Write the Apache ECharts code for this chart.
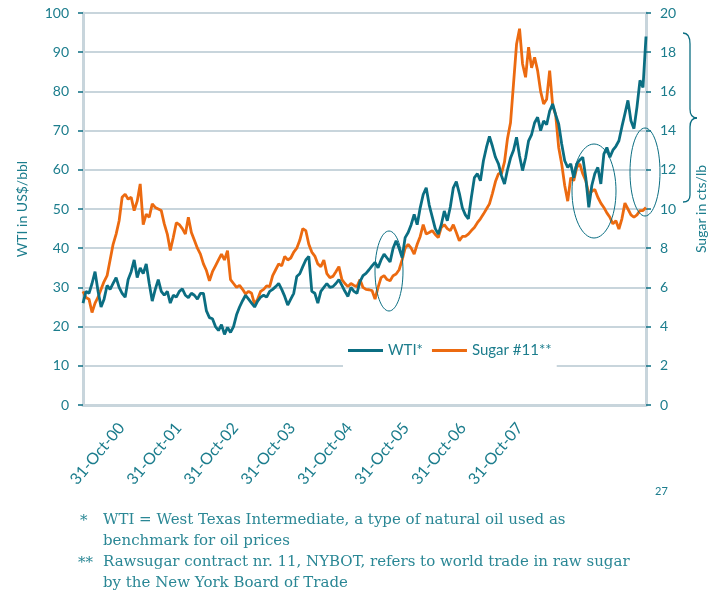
<!DOCTYPE html>
<html>
<head>
<meta charset="utf-8">
<script src="https://cdn.jsdelivr.net/npm/echarts@6/dist/echarts.min.js"></script>
<style>
html,body{margin:0;padding:0;background:#fff}
#chart{width:716px;height:592px}
</style>
</head>
<body>
<div id="chart"></div>
<script>
// WTI, US$/bbl at even steps along the x axis
var wti=[26,29,28.5,31,34,29,25,27,30.5,29.5,
 31,32.5,30,28.5,27.5,32,34,37,32.5,35,
 33.5,36,31,26.5,29.5,32,29,28,29,26,
 28,27.5,29,29.6,28,27.4,28.5,28,27,28.5,
 28.5,24,22.3,22,20,19,20.5,18,19.8,18.5,
 20,23,25,26.6,28,27,26,25,26.5,27.5,
 28,27.5,29,29.5,30.2,31,29.5,27.7,25.5,27,
 28.5,32.8,33.5,35.3,37,37.9,29,28.5,26,29,
 30,31,30,30.2,31,32,30.5,29,27.7,30,
 29,28.5,31.5,33,33.6,34.5,35.5,36.4,35,37,
 38.5,37.5,36.5,40,41.9,40,37.6,42.7,44,46,
 48.6,46,50.3,53.7,55.4,51,48,45,43.6,46,
 49.5,47,50.5,55.4,57,54,50.3,48.5,47.5,53,
 58,59,57.2,62.3,65.7,68.5,66,63.2,61.5,58.5,
 56.4,60,63,65,68.3,63.5,59.8,63,67.4,69,
 72,73.4,70,72.5,71.5,75,76.8,74,71.7,66.6,
 62.3,60.6,61.5,58,61.5,62.5,63.2,58,50.4,56,
 59,60.6,56.4,64,65.7,63.2,65,66,67.4,71,
 74.3,77.7,72.5,70.5,76,82.8,81,94];
// Sugar #11, cts/lb, same steps
var sugar=[5.8,5.48,5.4,4.72,5.2,5.5,5.9,6.3,6.6,7.4,
 8.2,8.72,9.4,10.6,10.76,10.5,10.6,9.92,10.4,11.28,
 9.2,9.74,9.58,10.26,10.08,10.0,9.92,9.24,8.72,7.88,
 8.56,9.3,9.2,9.0,8.72,9.58,8.8,8.4,8.0,7.7,
 7.2,6.86,6.34,6.8,7.1,7.4,7.7,7.4,7.88,6.4,
 6.2,6.0,6.1,5.9,5.66,5.8,5.7,5.14,5.4,5.8,
 5.9,6.08,6.04,6.6,6.9,7.2,7.1,7.58,7.4,7.5,
 7.8,8.0,8.4,9.0,8.9,8.2,7.8,7.6,7.2,7.06,
 7.4,6.7,6.5,6.56,6.8,7.06,6.4,6.2,6.04,6.2,
 6.1,6.04,6.4,6.0,5.9,5.88,5.84,5.4,6.0,6.5,
 6.6,6.4,6.34,6.6,6.68,6.9,7.4,8.0,8.2,8.0,
 7.7,8.2,8.6,9.2,8.72,8.8,8.9,8.7,8.54,9.06,
 9.2,9.0,8.9,9.2,8.8,8.38,8.6,8.6,8.72,8.9,
 9.06,9.3,9.5,9.74,10.0,10.26,10.8,11.4,11.8,11.8,
 12.4,13.6,14.4,16.4,18.4,19.2,17.4,16.72,18.26,17.2,
 17.74,17.06,16.0,15.36,15.6,17.06,15.28,14.8,13.14,12.3,
 11.2,10.4,11.6,11.44,12.12,12.3,11.8,11.44,10.76,10.9,
 11.0,10.6,10.3,10.08,9.8,9.58,9.24,9.4,8.98,9.5,
 10.3,10.0,9.7,9.58,9.7,9.92,9.92,10.08];
// where the date labels sit along the x axis, and their text
var labelPos=[12.8,31.7,50.6,69.5,88.4,107.3,126.2,145.1];
var labelText=['31-Oct-00','31-Oct-01','31-Oct-02','31-Oct-03','31-Oct-04','31-Oct-05','31-Oct-06','31-Oct-07'];
var seriesNames=['WTI*','Sugar #11**'];

var TEAL='#0b6e82', ORANGE='#ec6a10', TXT='#1c7d8d', GRID='#c8d5dc', NOTE='#2a8795';
var FONT='Lato';
var NOTEFONT='15px "DejaVu Serif"';

function pts(arr){
    var out=[];
    for(var i=0;i<arr.length;i++) out.push([i,arr[i]]);
    return out;
}

var chart=echarts.init(document.getElementById('chart'));
chart.setOption({
    animation:false,
    grid:{left:83,right:70,top:13,bottom:187},
    legend:{
        left:343,top:337,
        padding:[6,5,9,5],
        backgroundColor:'#fff',
        itemWidth:35,itemHeight:3,itemGap:9,
        icon:'rect',
        textStyle:{color:TXT,fontSize:15,fontFamily:FONT},
        data:seriesNames
    },
    xAxis:{
        type:'value',min:0,max:wti.length-1,
        axisLine:{show:true,onZero:false,lineStyle:{color:GRID,width:3}},
        axisTick:{show:false},
        splitLine:{show:false},
        axisLabel:{
            customValues:labelPos,
            rotate:50,margin:20,
            color:TXT,fontSize:16,fontFamily:FONT,
            formatter:function(v){
                var k=labelPos.indexOf(v);
                return k<0?'':labelText[k];
            }
        }
    },
    yAxis:[{
        type:'value',min:0,max:100,interval:10,position:'left',
        name:'WTI in US$/bbl',nameLocation:'middle',nameGap:54,nameRotate:90,
        nameTextStyle:{color:TXT,fontSize:14,fontFamily:FONT},
        axisLine:{show:true,lineStyle:{color:GRID,width:3}},
        axisTick:{show:true,length:5,lineStyle:{color:TEAL,width:1.5}},
        splitLine:{lineStyle:{color:GRID,width:2}},
        axisLabel:{color:TXT,fontSize:14,fontFamily:FONT,margin:14}
    },{
        type:'value',min:0,max:20,interval:2,position:'right',
        name:'Sugar in cts/lb',nameLocation:'middle',nameGap:48,nameRotate:90,
        nameTextStyle:{color:TXT,fontSize:14,fontFamily:FONT},
        axisLine:{show:true,lineStyle:{color:GRID,width:3}},
        axisTick:{show:true,length:5,lineStyle:{color:TEAL,width:1.5}},
        splitLine:{show:false},
        axisLabel:{color:TXT,fontSize:14,fontFamily:FONT,margin:14}
    }],
    series:[
        {name:seriesNames[0],type:'line',yAxisIndex:0,data:pts(wti),showSymbol:false,
         color:TEAL,lineStyle:{color:TEAL,width:2.8},z:3},
        {name:seriesNames[1],type:'line',yAxisIndex:1,data:pts(sugar),showSymbol:false,
         color:ORANGE,lineStyle:{color:ORANGE,width:2.8},z:2}
    ],
    graphic:[
        // highlight rings
        {type:'ellipse',shape:{cx:389,cy:271,rx:14,ry:40},style:{fill:null,stroke:TEAL,lineWidth:1},z:10},
        {type:'ellipse',shape:{cx:594,cy:191,rx:22,ry:47},style:{fill:null,stroke:TEAL,lineWidth:1},z:10},
        {type:'ellipse',shape:{cx:645,cy:172,rx:15,ry:44},style:{fill:null,stroke:TEAL,lineWidth:1},z:10},
        // brace at the right
        {type:'bezierCurve',shape:{x1:683,y1:33,cpx1:688,cpy1:33,cpx2:690,cpy2:37,x2:690,y2:44},style:{stroke:TEAL,lineWidth:1.3,fill:null}},
        {type:'line',shape:{x1:690,y1:44,x2:690,y2:109},style:{stroke:TEAL,lineWidth:1.3}},
        {type:'bezierCurve',shape:{x1:690,y1:109,cpx1:690,cpy1:115,cpx2:693,cpy2:118,x2:697,y2:118},style:{stroke:TEAL,lineWidth:1.3,fill:null}},
        {type:'bezierCurve',shape:{x1:697,y1:118,cpx1:693,cpy1:118,cpx2:690,cpy2:121,x2:690,y2:127},style:{stroke:TEAL,lineWidth:1.3,fill:null}},
        {type:'line',shape:{x1:690,y1:127,x2:690,y2:195},style:{stroke:TEAL,lineWidth:1.3}},
        {type:'bezierCurve',shape:{x1:690,y1:195,cpx1:690,cpy1:199,cpx2:688,cpy2:202,x2:683,y2:202},style:{stroke:TEAL,lineWidth:1.3,fill:null}},
        // page number and footnotes
        {type:'text',left:655,top:486,style:{text:'27',fill:TXT,font:'11px Lato'}},
        {type:'text',x:80,y:521,style:{text:'*',fill:NOTE,font:NOTEFONT,verticalAlign:'middle'}},
        {type:'text',x:103,y:520,style:{text:'WTI = West Texas Intermediate, a type of natural oil used as',fill:NOTE,font:NOTEFONT,verticalAlign:'middle'}},
        {type:'text',x:103,y:541,style:{text:'benchmark for oil prices',fill:NOTE,font:NOTEFONT,verticalAlign:'middle'}},
        {type:'text',x:78,y:563,style:{text:'**',fill:NOTE,font:NOTEFONT,verticalAlign:'middle'}},
        {type:'text',x:103,y:562,style:{text:'Rawsugar contract nr. 11, NYBOT, refers to world trade in raw sugar',fill:NOTE,font:NOTEFONT,verticalAlign:'middle'}},
        {type:'text',x:103,y:583,style:{text:'by the New York Board of Trade',fill:NOTE,font:NOTEFONT,verticalAlign:'middle'}}
    ]
});
</script>
</body>
</html>
